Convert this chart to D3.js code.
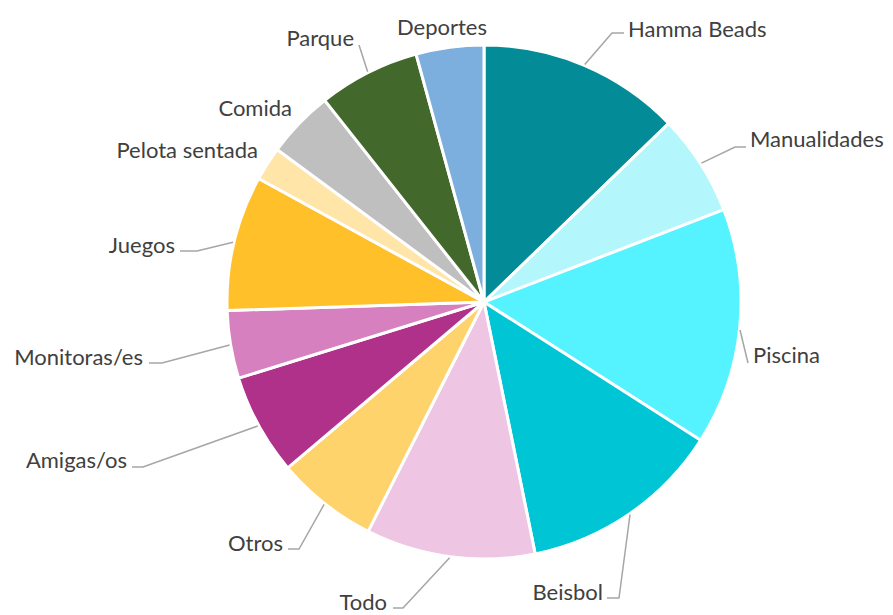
<!DOCTYPE html>
<html>
<head>
<meta charset="utf-8">
<script src="https://cdn.jsdelivr.net/npm/d3@7"></script>
<style>
  body { margin: 0; background: #fff; }
  svg { display: block; }
</style>
</head>
<body>
<div id="chart"></div>
<script>
// data (counts, clockwise from 12 o'clock)
var categories = ["Hamma Beads", "Manualidades", "Piscina", "Beisbol", "Todo", "Otros",
  "Amigas/os", "Monitoras/es", "Juegos", "Pelota sentada", "Comida", "Parque", "Deportes"];
var values = [6, 3, 7, 6, 5, 3, 3, 2, 4, 1, 2, 3, 2];
var colors = ["#038c98", "#b3f7fd", "#55f3ff", "#00c5d5", "#eec6e3", "#ffd36b",
  "#b0318a", "#d680bf", "#ffc02a", "#ffe5a8", "#bfbfbf", "#43682b", "#7cafdd"];

// label layout: text x, text centre y, anchor, leader elbow [x, y, endX] (or null)
var labelLayout = [
  {x: 628, y: 29, a: "start", elbow: [612, 33, 624]},
  {x: 750, y: 139, a: "start", elbow: [735, 147, 746]},
  {x: 753, y: 355, a: "start", line: [[740, 330], [748, 363]]},
  {x: 603, y: 592, a: "end", elbow: [619, 598, 607]},
  {x: 387, y: 602, a: "end", elbow: [403, 608, 393]},
  {x: 283, y: 543, a: "end", elbow: [299, 549, 288]},
  {x: 127, y: 460, a: "end", elbow: [143, 467, 132]},
  {x: 143, y: 357, a: "end", elbow: [162, 363, 149]},
  {x: 175, y: 245, a: "end", elbow: [197, 251, 180]},
  {x: 258, y: 150, a: "end", elbow: null},
  {x: 292, y: 108, a: "end", elbow: null},
  {x: 354, y: 38, a: "end", line: "mid", to: [359, 45]},
  {x: 442, y: 27, a: "middle", elbow: null}
];

var width = 893, height = 615;
var cx = 484, cy = 302, radius = 257;

var svg = d3.select("#chart").append("svg")
  .attr("width", width)
  .attr("height", height);

var pie = d3.pie().sort(null).value(function(d) { return d; });
var arcs = pie(values);

var arc = d3.arc().innerRadius(0).outerRadius(radius);

var g = svg.append("g").attr("transform", "translate(" + cx + "," + cy + ")");

g.selectAll("path")
  .data(arcs)
  .enter()
  .append("path")
  .attr("d", arc)
  .style("fill", function(d, i) { return colors[i]; })
  .style("stroke", "#fff")
  .style("stroke-width", 3)
  .style("stroke-linejoin", "round");

// leader lines
var leaders = svg.append("g").attr("class", "leaders");
arcs.forEach(function(d, i) {
  var L = labelLayout[i];
  var mid = (d.startAngle + d.endAngle) / 2;
  var p0 = [cx + Math.sin(mid) * (radius + 1), cy - Math.cos(mid) * (radius + 1)];
  var pts = null;
  if (L.elbow) {
    pts = [p0, [L.elbow[0], L.elbow[1]], [L.elbow[2], L.elbow[1]]];
  } else if (L.line === "mid") {
    pts = [p0, L.to];
  } else if (L.line) {
    pts = L.line;
  }
  if (pts) {
    leaders.append("path")
      .attr("d", d3.line()(pts))
      .style("fill", "none")
      .style("stroke", "#a6a6a6")
      .style("stroke-width", 1.5);
  }
});

svg.append("g")
  .selectAll("text")
  .data(categories)
  .enter()
  .append("text")
  .text(function(d) { return d; })
  .attr("x", function(d, i) { return labelLayout[i].x; })
  .attr("y", function(d, i) { return labelLayout[i].y; })
  .attr("dy", "0.35em")
  .attr("text-anchor", function(d, i) { return labelLayout[i].a; })
  .style("font-family", "Lato, 'Open Sans', sans-serif")
  .style("font-size", "22px")
  .style("fill", "#404040");
</script>
</body>
</html>
